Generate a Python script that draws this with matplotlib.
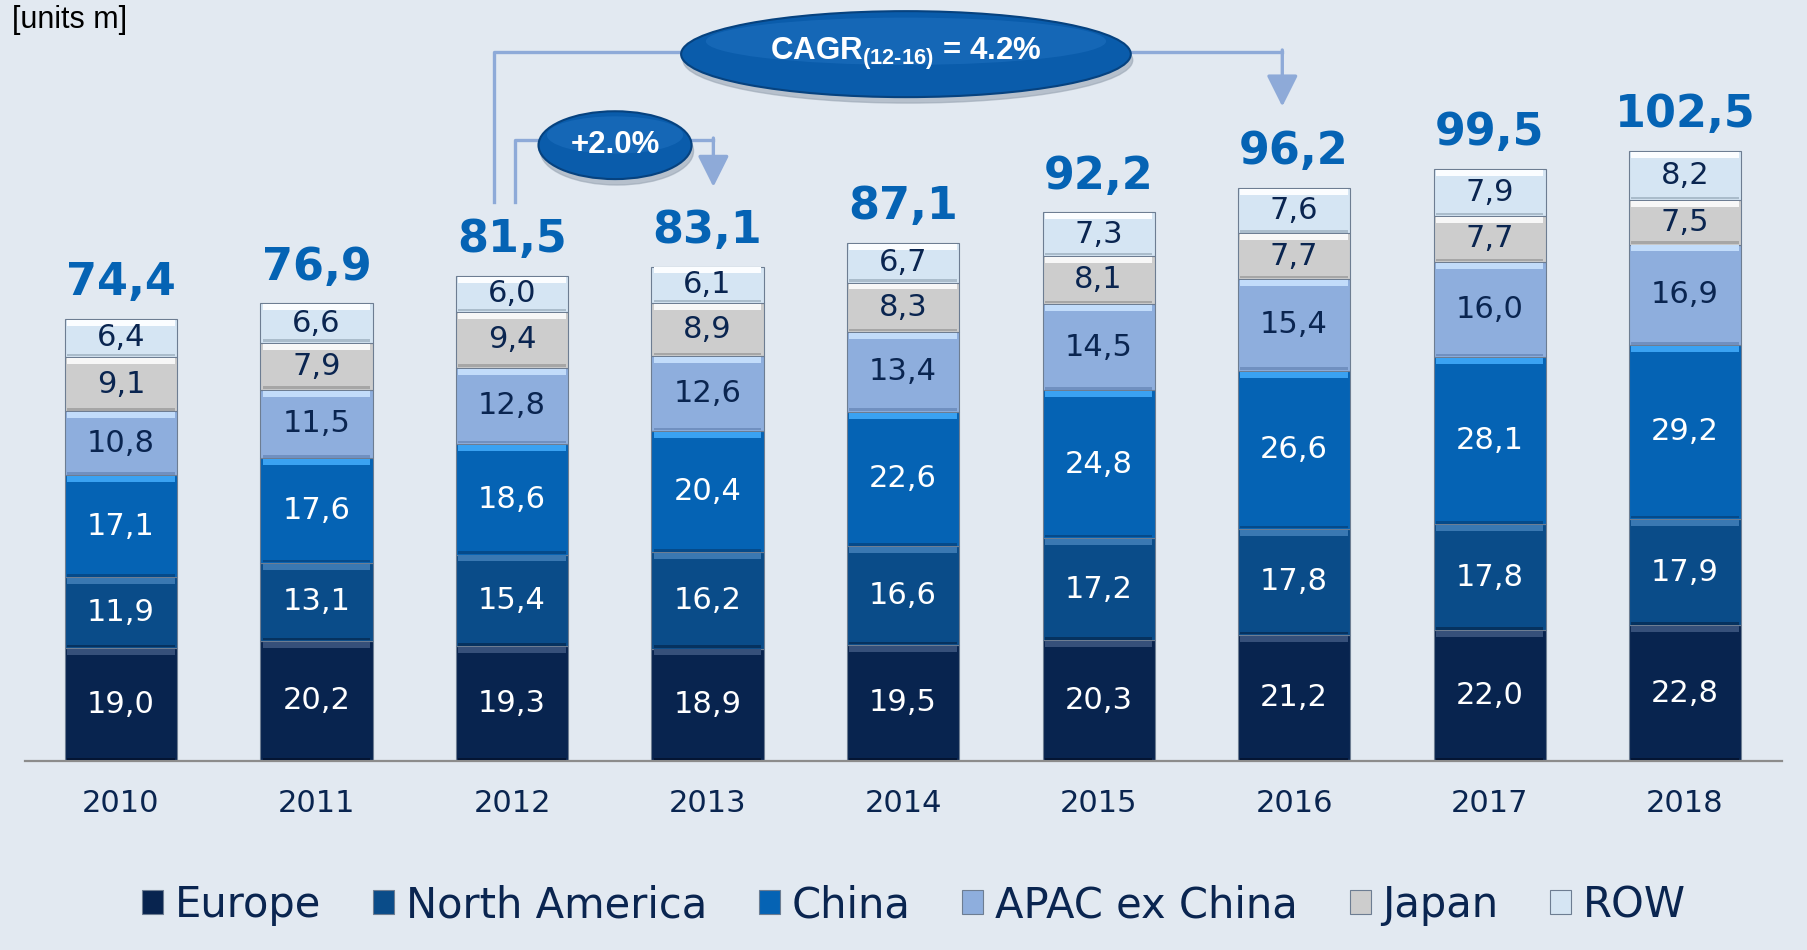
import numpy as np
import matplotlib.pyplot as plt
from matplotlib.patches import Ellipse

# data
years = ['2010', '2011', '2012', '2013', '2014', '2015', '2016', '2017', '2018']
europe = [19.0, 20.2, 19.3, 18.9, 19.5, 20.3, 21.2, 22.0, 22.8]
north_america = [11.9, 13.1, 15.4, 16.2, 16.6, 17.2, 17.8, 17.8, 17.9]
china = [17.1, 17.6, 18.6, 20.4, 22.6, 24.8, 26.6, 28.1, 29.2]
apac_ex_china = [10.8, 11.5, 12.8, 12.6, 13.4, 14.5, 15.4, 16.0, 16.9]
japan = [9.1, 7.9, 9.4, 8.9, 8.3, 8.1, 7.7, 7.7, 7.5]
row = [6.4, 6.6, 6.0, 6.1, 6.7, 7.3, 7.6, 7.9, 8.2]
totals = [74.4, 76.9, 81.5, 83.1, 87.1, 92.2, 96.2, 99.5, 102.5]

series_names = ['Europe', 'North America', 'China', 'APAC ex China', 'Japan', 'ROW']
series = [europe, north_america, china, apac_ex_china, japan, row]
colors = ['#08244f', '#0a4c89', '#0563b4', '#8eaedd', '#cdcdcd', '#d5e5f3']
top_colors = ['#36507a', '#3a78b2', '#3aa2f2', '#c2dcfa', '#f7f7f7', '#fbfdff']
bot_colors = ['#041533', '#06325f', '#054a8a', '#7090c0', '#a6a6a6', '#aabccb']
text_colors = ['white', 'white', 'white', '#0a2550', '#0a2550', '#0a2550']

BG = '#e2e9f1'
NAVY = '#0a2550'
BLUE = '#0563b4'
LINE = '#8eaad8'


def fmt(v):
    return f"{v:.1f}".replace('.', ',')


fig = plt.figure(figsize=(18.08, 9.5), dpi=100, facecolor=BG)
W, H = 1808, 950
ax = fig.add_axes([25 / W, (H - 761) / H, (1782 - 25) / W, 761 / H])
ax.set_facecolor(BG)
ax.set_xlim(-0.491, 8.496)
ax.set_ylim(0, 761 / 5.95)

x = np.arange(len(years))
width = 0.573
bottom = np.zeros(len(years))
for vals, name, col, tcol, bcol, tc in zip(series, series_names, colors, top_colors,
                                           bot_colors, text_colors):
    vals = np.array(vals)
    ax.bar(x, vals, width, bottom=bottom, color=col, edgecolor='#6d7d92',
           linewidth=0.8, label=name, zorder=2)
    # bevel look: light top band, dark bottom band
    ax.bar(x, np.full(len(x), 1.0), width * 0.96, bottom=bottom + vals - 1.15,
           color=tcol, linewidth=0, zorder=3)
    ax.bar(x, np.full(len(x), 0.45), width * 0.96, bottom=bottom + 0.1,
           color=bcol, linewidth=0, zorder=3)
    for xi, b, v in zip(x, bottom, vals):
        ax.text(xi, b + v / 2, fmt(v), ha='center', va='center', color=tc,
                fontsize=22, family='DejaVu Sans', zorder=4)
    bottom = bottom + vals

for xi, t, top in zip(x, totals, bottom):
    ax.text(xi, top + 4.0, fmt(t), ha='center', va='baseline', color=BLUE,
            fontsize=32, fontweight='bold', family='DejaVu Sans')

ax.set_xticks(x)
ax.set_xticklabels(years, fontsize=22, color=NAVY, family='DejaVu Sans')
ax.tick_params(axis='x', length=0, pad=20)
ax.set_yticks([])
for s in ['top', 'right', 'left']:
    ax.spines[s].set_visible(False)
ax.spines['bottom'].set_color('#8c8c8c')
ax.spines['bottom'].set_linewidth(1.6)

plt.rcParams['mathtext.fontset'] = 'custom'
plt.rcParams['mathtext.rm'] = 'Liberation Sans:bold'
plt.rcParams['mathtext.default'] = 'rm'

lw = 2.4
arrow = dict(arrowstyle='-|>,head_length=0.4,head_width=0.2', color=LINE, lw=lw,
             mutation_scale=48, shrinkA=0, shrinkB=0)


def bubble(cx, cy, w, h, label, size):
    ax.add_patch(Ellipse((cx + 0.01, cy - 1.0), w, h, color='#9aa6b4', alpha=0.6,
                         clip_on=False, zorder=5))
    ax.add_patch(Ellipse((cx, cy), w, h, facecolor='#0a5cab', edgecolor='#06427f',
                         lw=1.5, clip_on=False, zorder=6))
    ax.add_patch(Ellipse((cx, cy + h * 0.15), w * 0.89, h * 0.55, facecolor='#2a7ccc',
                         edgecolor='none', alpha=0.35, clip_on=False, zorder=6))
    ax.text(cx, cy, label, ha='center', va='center', color='white', fontsize=size,
            fontweight='bold', family='Liberation Sans', zorder=7)


# CAGR annotation (2012 -> 2016)
ax.plot([2 - 0.092, 2 - 0.092, 4.015 - 1.1], [94, 119.2, 119.2], color=LINE, lw=lw,
        clip_on=False, zorder=1)
ax.plot([4.015 + 1.1, 6 - 0.06], [119.2, 119.2], color=LINE, lw=lw, clip_on=False, zorder=1)
ax.annotate('', xy=(6 - 0.06, 110), xytext=(6 - 0.06, 119.5), arrowprops=arrow,
            annotation_clip=False)
bubble(4.015, 118.8, 2.30, 14.45, r'CAGR$_{(12\text{-}16)}$ = 4.2%', 22.5)

# +2.0% annotation (2012 -> 2013)
ax.plot([2 + 0.015, 2 + 0.015, 2.527 - 0.39], [94, 104.4, 104.4], color=LINE, lw=lw,
        clip_on=False, zorder=1)
ax.plot([2.527 + 0.39, 3 + 0.03], [104.4, 104.4], color=LINE, lw=lw, clip_on=False, zorder=1)
ax.annotate('', xy=(3 + 0.03, 96.5), xytext=(3 + 0.03, 104.7), arrowprops=arrow,
            annotation_clip=False)
bubble(2.527, 103.5, 0.783, 11.4, '+2.0%', 22.5)

fig.text(12 / W, 1 - 20 / H, '[units m]', ha='left', va='center', fontsize=22,
         family='Liberation Sans', color='black')

handles, labels = ax.get_legend_handles_labels()
leg = fig.legend(handles, labels, loc='center', bbox_to_anchor=(914 / W, 1 - 905 / H),
                 ncol=6, frameon=False, handlelength=0.5, handleheight=0.5,
                 handletextpad=0.28, columnspacing=1.25,
                 prop={'family': 'DejaVu Sans', 'size': 30})
for t in leg.get_texts():
    t.set_color(NAVY)

fig.savefig('out.png', dpi=100, facecolor=BG)
